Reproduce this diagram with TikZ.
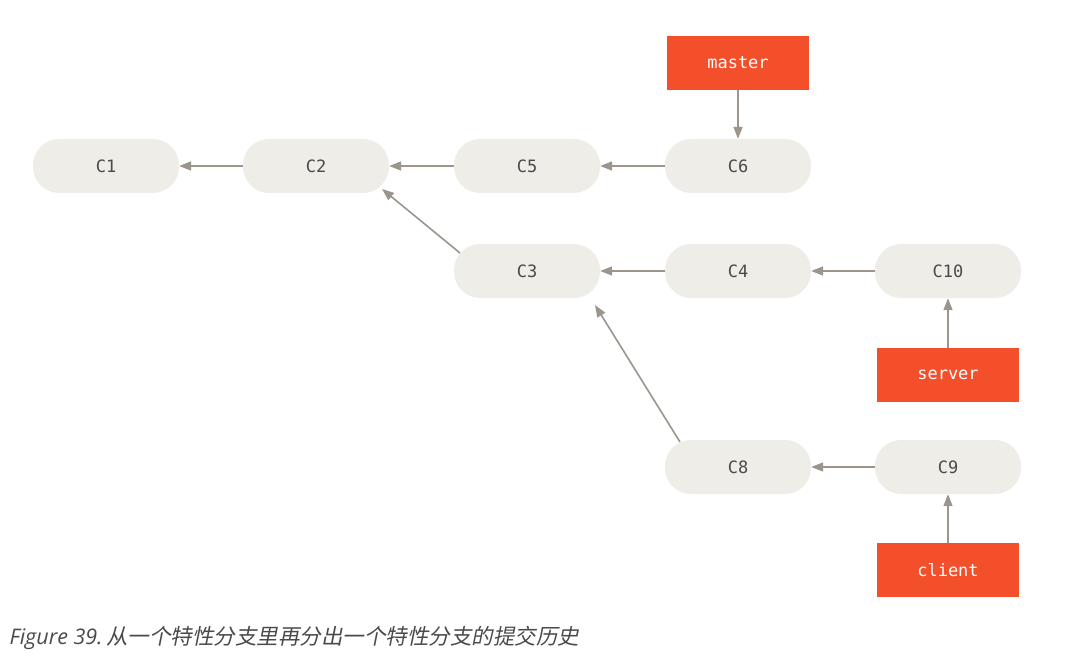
\documentclass[tikz,border=0pt]{standalone}
\usepackage{fontspec}
\setmainfont{Open Sans}
\setmonofont{DejaVu Sans Mono}
\newfontfamily\cjk[FakeSlant=0.2]{Noto Sans CJK SC}
\usetikzlibrary{arrows.meta}
\definecolor{cfill}{HTML}{EEEDE7}
\definecolor{cred}{HTML}{F34F2B}
\definecolor{carrow}{HTML}{9B958C}
\definecolor{ctext}{HTML}{4A4A48}
\begin{document}
\begin{tikzpicture}[x=1pt,y=-1pt,
  commit/.style={fill=cfill,rounded corners=26pt,minimum width=146pt,minimum height=54pt,inner sep=0pt,font=\ttfamily\fontsize{17}{20}\selectfont,text=ctext},
  branch/.style={fill=cred,minimum width=142pt,minimum height=54pt,inner sep=0pt,font=\ttfamily\fontsize{17}{20}\selectfont,text=white},
  link/.style={draw=carrow,line width=1.6pt,-{Triangle[length=12pt,width=9pt]}}]
\useasboundingbox (0,0) rectangle (1065,668);
\node[commit] (c1) at (106,166) {C1};
\node[commit] (c2) at (316,166) {C2};
\node[commit] (c5) at (527,166) {C5};
\node[commit] (c6) at (738,166) {C6};
\node[commit] (c3) at (527,271) {C3};
\node[commit] (c4) at (738,271) {C4};
\node[commit] (c10) at (948,271) {C10};
\node[commit] (c8) at (738,467) {C8};
\node[commit] (c9) at (948,467) {C9};
\node[branch] (master) at (738,63) {master};
\node[branch] (server) at (948,375) {server};
\node[branch] (client) at (948,570) {client};
\draw[link] (c2.west) -- (c1.east);
\draw[link] (c5.west) -- (c2.east);
\draw[link] (c6.west) -- (c5.east);
\draw[link] (c4.west) -- (c3.east);
\draw[link] (c10.west) -- (c4.east);
\draw[link] (c9.west) -- (c8.east);
\draw[link] (master.south) -- (c6.north);
\draw[link] (server.north) -- (c10.south);
\draw[link] (client.north) -- (c9.south);
\coordinate (a1) at (460,253); \coordinate (a2) at (382,189);
\draw[link] (a1) -- (a2);
\coordinate (b1) at (680,442); \coordinate (b2) at (595,305);
\draw[link] (b1) -- (b2);
\node[anchor=west,text=ctext,font=\fontsize{21.5}{24}\selectfont] (cap) at (6,638) {\textit{Figure 39.}\,{\cjk 从一个特性分支里再分出一个特性分支的提交历史}};
\end{tikzpicture}
\end{document}
